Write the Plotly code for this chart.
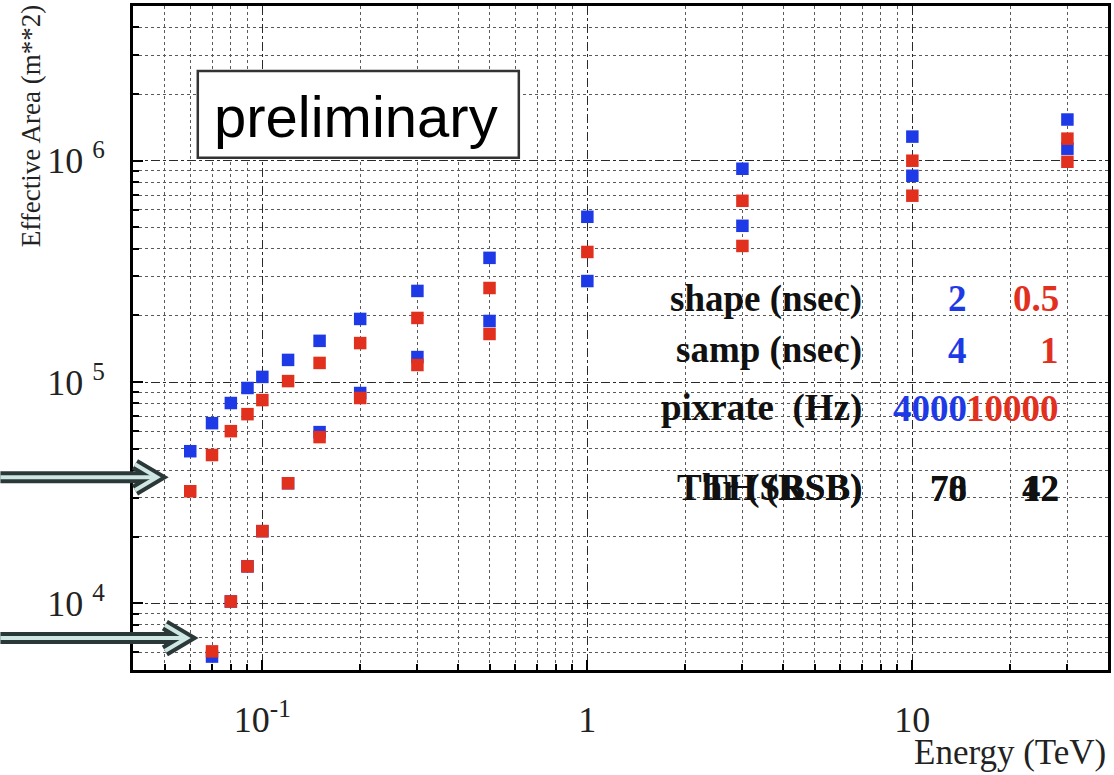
import plotly.graph_objects as go

# Energy bins (TeV)
energy = [0.06, 0.07, 0.08, 0.09, 0.1, 0.12, 0.15, 0.2, 0.3, 0.5, 1, 3, 10, 30]

# Effective area (m**2) for the two trigger configurations, upper and lower curves
blue_hi = [48700, 65200, 80400, 94000, 105500, 125900, 153500, 192800, 258000,
           364000, 558000, 920000, 1285000, 1535000]
red_hi = [32100, 46800, 60000, 71600, 82900, 101000, 122000, 150000, 194800,
          266000, 387000, 659000, 1000000, 1258000]
blue_lo = [None, 5750, 10200, 14700, 21200, 34900, 59400, 89200, 129700,
           188800, 286000, 508000, 855000, 1133000]
red_lo = [None, 6070, 10200, 14700, 21200, 34900, 56400, 84700, 119400,
          164900, None, 412000, 695000, 989000]

# Configuration table
row_labels = ["shape (nsec)", "samp (nsec)", "pixrate  (Hz)"]
blue_params = ["2", "4", "4000"]
red_params = ["0.5", "1", "10000"]
thr_labels = ["Thr (SBSB)", "TH (RSB)"]
thr_blue = ["78", "70"]
thr_red = ["42", "12"]

x_ticks = [0.1, 1, 10]
x_ticktext = ["10<sup>-1</sup>", "1", "10"]
y_ticks = [1e4, 1e5, 1e6]
y_ticktext = ["10 <sup>4</sup>", "10 <sup>5</sup>", "10 <sup>6</sup>"]

BLUE = "#1e3ae6"
RED = "#e2301f"
SERIF = "Liberation Serif, Times New Roman, serif"

W, H = 1114, 775
ML, MR, MT, MB = 133, 3, 5, 105
PW, PH = W - ML - MR, H - MT - MB


def xp(px):
    return (px - ML) / PW


def yp(py):
    return (H - MB - py) / PH


fig = go.Figure()
for ys, col in [(blue_hi, BLUE), (blue_lo, BLUE), (red_hi, RED), (red_lo, RED)]:
    fig.add_trace(go.Scatter(
        x=energy, y=ys, mode="markers",
        marker=dict(symbol="square", size=12.5, color=col, line=dict(width=0)),
        showlegend=False, hoverinfo="x+y",
    ))

grid_major = dict(showgrid=True, gridcolor="#2a2a2a", gridwidth=1.3, griddash="dashdot")
grid_minor = dict(showgrid=True, gridcolor="#5a5a5a", gridwidth=1, griddash="dot",
                  ticks="inside", ticklen=6, tickcolor="black", dtick="D1")

fig.update_xaxes(
    type="log", range=[-1.398, 1.602],
    tickvals=x_ticks, ticktext=x_ticktext,
    ticks="inside", ticklen=10, tickcolor="black", tickwidth=1.5,
    showline=True, mirror=True, linecolor="black", linewidth=3,
    tickfont=dict(family=SERIF, size=36, color="#222"),
    ticklabelstandoff=16, zeroline=False,
    minor=grid_minor, **grid_major,
)
fig.update_yaxes(
    type="log", range=[3.699, 6.699],
    tickvals=y_ticks, ticktext=y_ticktext,
    ticks="inside", ticklen=10, tickcolor="black", tickwidth=1.5,
    showline=True, mirror=True, linecolor="black", linewidth=3,
    tickfont=dict(family=SERIF, size=36, color="#222"),
    ticklabelstandoff=18, zeroline=False,
    minor=grid_minor, **grid_major,
)

shapes = []
# "preliminary" box
shapes.append(dict(type="rect", xref="paper", yref="paper",
                   x0=xp(198), x1=xp(520), y0=yp(157), y1=yp(70),
                   fillcolor="white", line=dict(color="#333", width=2.5), layer="above"))

# threshold arrows on the left margin
for tip, yy in [(157, 477), (187, 638)]:
    shaft = f"M {xp(0)},{yp(yy)} L {xp(tip - 2)},{yp(yy)}"
    head = (f"M {xp(tip - 22)},{yp(yy - 13)} L {xp(tip)},{yp(yy)} "
            f"L {xp(tip - 22)},{yp(yy + 13)}")
    for width, col in [(12, "#2b3838"), (4, "#cfe7e3")]:
        for p in (shaft, head):
            shapes.append(dict(type="path", path=p, xref="paper", yref="paper",
                               line=dict(color=col, width=width), layer="above"))

annotations = [
    dict(text="preliminary", x=xp(357), y=yp(116), xref="paper", yref="paper",
         xanchor="center", yanchor="middle", showarrow=False,
         font=dict(family="Liberation Sans, Arial, sans-serif", size=58, color="black")),
    dict(text="Effective Area (m**2)", x=xp(31), y=yp(125), xref="paper", yref="paper",
         xanchor="center", yanchor="middle", textangle=-90, showarrow=False,
         font=dict(family=SERIF, size=27, color="#222")),
    dict(text="Energy (TeV)", x=1.0, y=yp(774), xref="paper", yref="paper",
         xanchor="right", yanchor="bottom", showarrow=False,
         font=dict(family=SERIF, size=35, color="#222")),
]

bold = dict(family=SERIF, size=37, weight="bold")
for i, (lab, bv, rv) in enumerate(zip(row_labels, blue_params, red_params)):
    yy = [298, 350, 408][i]
    for txt, xx, col in [(lab, 866, "#111"), (bv, 972, BLUE), (rv, 1064, RED)]:
        annotations.append(dict(text=txt, x=xp(xx), y=yp(yy), xref="paper", yref="paper",
                                xanchor="right", yanchor="middle", showarrow=False,
                                font=dict(color=col, **bold)))

# two overlapping threshold rows
for lab, bv, rv in zip(thr_labels, thr_blue, thr_red):
    for txt, xx in [(lab, 866), (bv, 972), (rv, 1064)]:
        annotations.append(dict(text=txt, x=xp(xx), y=yp(488), xref="paper", yref="paper",
                                xanchor="right", yanchor="middle", showarrow=False,
                                font=dict(color="#111", **bold)))

fig.update_layout(
    width=W, height=H,
    margin=dict(l=ML, r=MR, t=MT, b=MB),
    paper_bgcolor="white", plot_bgcolor="white",
    shapes=shapes, annotations=annotations,
)

fig.write_html("out.html")
